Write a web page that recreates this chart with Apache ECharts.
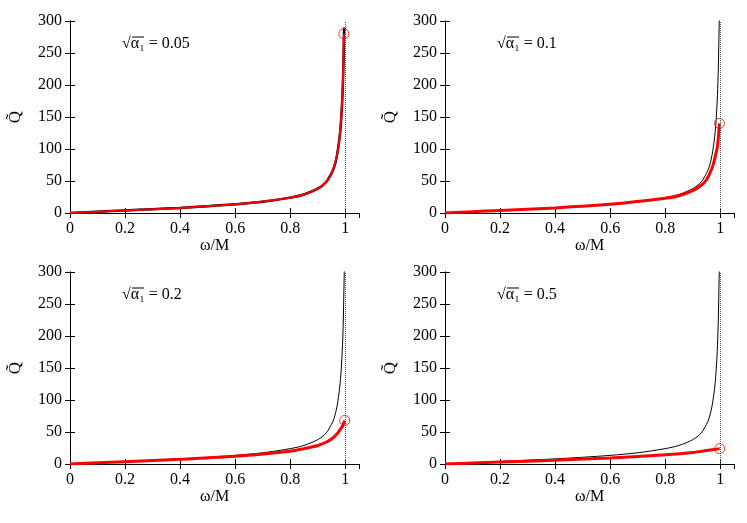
<!DOCTYPE html>
<html><head><meta charset="utf-8">
<script src="https://cdn.jsdelivr.net/npm/echarts@6/dist/echarts.min.js"></script>
<style>html,body{margin:0;background:#fff}#c{width:747px;height:523px}</style>
</head><body><div id="c"></div>
<script>
// black reference curve (same in all panels)
const blackX = [0, 0.1, 0.2, 0.3, 0.4, 0.5, 0.6, 0.7, 0.8, 0.85, 0.9, 0.93, 0.95, 0.96, 0.97, 0.98, 0.985, 0.99, 0.993, 0.996, 0.998, 1.0];
const blackY = [0, 2, 4, 6, 8, 10.5, 13.5, 17.5, 24, 29, 38, 48, 62, 72, 90, 120, 145, 185, 225, 290, 330, 400];

const panelLabels = ['0.05', '0.1', '0.2', '0.5'];
const redX = [
  [0, 0.1, 0.2, 0.4, 0.6, 0.8, 0.85, 0.9, 0.93, 0.95, 0.97, 0.98, 0.99, 0.995],
  [0, 0.1, 0.2, 0.4, 0.6, 0.8, 0.85, 0.9, 0.93, 0.95, 0.97, 0.98, 0.99, 0.997],
  [0, 0.1, 0.2, 0.4, 0.6, 0.8, 0.85, 0.9, 0.93, 0.95, 0.97, 0.98, 0.99, 0.998],
  [0, 0.1, 0.2, 0.4, 0.6, 0.8, 0.9, 0.95, 0.998]
];
const redY = [
  [0, 2, 4, 8, 13.5, 24, 29, 38, 48, 62, 90, 120, 185, 280],
  [0, 2, 4, 8, 13.5, 23, 27, 35, 43, 52, 70, 85, 105, 140],
  [0, 1.8, 3.7, 7.5, 12, 20, 24, 29, 34, 39, 47, 53, 59, 68],
  [0, 1.5, 3, 6, 9.5, 14.5, 18, 21, 24]
];

const font = 'Liberation Serif';
const pos = [[70, 21], [445, 21], [70, 272], [445, 272]];
const W = 289, H = 192;
const chart = echarts.init(document.getElementById('c'));
const grid = [], xAxis = [], yAxis = [], series = [], graphic = [];
const zip = (xs, ys) => xs.map((x, i) => [x, ys[i]]);

pos.forEach(([l, t], i) => {
  grid.push({ left: l, top: t, width: W, height: H });
  const tick = { show: true, inside: true, length: 5, lineStyle: { color: '#000' } };
  const line = { show: true, lineStyle: { color: '#000', width: 1 } };
  xAxis.push({
    gridIndex: i, type: 'value', min: 0, max: 1.05, interval: 0.2,
    name: 'ω/M', nameLocation: 'middle', nameGap: 22,
    nameTextStyle: { fontFamily: font, fontSize: 16, color: '#000' },
    axisLine: line, axisTick: tick, splitLine: { show: false },
    axisLabel: { fontFamily: font, fontSize: 16, color: '#000', showMaxLabel: false, margin: 8 }
  });
  xAxis.push({
    gridIndex: i, type: 'value', position: 'top', min: 0, max: 1.05, interval: 0.2,
    axisLine: line, axisTick: tick, axisLabel: { show: false }, splitLine: { show: false }
  });
  yAxis.push({
    gridIndex: i, type: 'value', min: 0, max: 300, interval: 50,
    name: 'Q̃', nameLocation: 'middle', nameGap: 46, nameRotate: 90,
    nameTextStyle: { fontFamily: font, fontSize: 17, color: '#000' },
    axisLine: line, axisTick: tick, splitLine: { show: false },
    axisLabel: { fontFamily: font, fontSize: 16, color: '#000', margin: 8 }
  });
  yAxis.push({
    gridIndex: i, type: 'value', position: 'right', min: 0, max: 300, interval: 50,
    axisLine: line, axisTick: tick, axisLabel: { show: false }, splitLine: { show: false }
  });
  series.push({
    type: 'line', xAxisIndex: 2 * i, yAxisIndex: 2 * i,
    data: i === 0 ? zip(blackX.slice(0, 20), blackY.slice(0, 20)) : zip(blackX, blackY),
    smooth: 0.3, showSymbol: false, clip: true, z: 3,
    lineStyle: { color: '#000', width: i === 0 ? 2.5 : 1 },
    markLine: {
      silent: true, symbol: 'none', label: { show: false },
      lineStyle: { color: '#555', type: 'dotted', width: 1 },
      data: [[{ coord: [1, 0] }, { coord: [1, 300] }]]
    }
  });
  const rd = zip(redX[i], redY[i]);
  series.push({
    type: 'line', xAxisIndex: 2 * i, yAxisIndex: 2 * i, data: rd,
    smooth: 0.3, showSymbol: false, z: 4,
    lineStyle: { color: '#f00', width: i === 0 ? 2 : 3 }
  });
  series.push({
    type: 'scatter', xAxisIndex: 2 * i, yAxisIndex: 2 * i, data: [rd[rd.length - 1]],
    symbol: 'circle', symbolSize: 10, z: 5,
    itemStyle: { color: 'transparent', borderColor: '#f00', borderWidth: 1 }
  });
  graphic.push({
    type: 'text', left: l + 52, top: t + 15,
    style: { text: '√α₁ = ' + panelLabels[i], font: '16px "Liberation Serif"', fill: '#000' }
  });
  graphic.push({
    type: 'line', shape: { x1: l + 62, y1: t + 16, x2: l + 74, y2: t + 16 },
    style: { stroke: '#000', lineWidth: 1 }
  });
});

chart.setOption({ animation: false, grid, xAxis, yAxis, series, graphic });
</script></body></html>
